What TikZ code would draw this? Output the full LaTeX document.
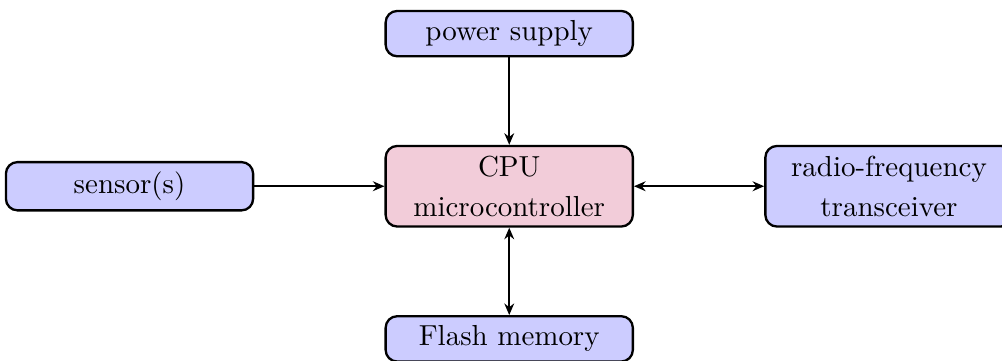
\documentclass[tikz,border=0pt]{standalone}
\usepackage{tikz}
\usetikzlibrary{positioning,arrows.meta,calc}

\begin{document}
\begin{tikzpicture}[>={Stealth[length=4pt,width=3.4pt]}, node distance=1.06cm and 1.58cm,
  block/.style={draw, thick, rounded corners, fill=blue!20, minimum width=3cm, align=center}]
  \useasboundingbox (-6.18,-2.12) rectangle (5.98,2.26);
  \node[block, fill=purple!20] (cpu) at (0,0) {CPU\\[2pt]microcontroller};
  \node[block, above=of cpu] (pw) {power supply};
  \node[block, below=of cpu] (fm) {Flash memory};
  \node[block, left=of cpu] (sn) {sensor(s)};
  \node[block, right=of cpu] (rf) {radio-frequency\\[2pt]transceiver};
  \draw[->, semithick] (pw) -- (cpu);
  \draw[->, semithick] (sn) -- (cpu);
  \draw[<->, semithick] (cpu) -- (rf);
  \draw[<->, semithick] (cpu) -- (fm);
\end{tikzpicture}
\end{document}
